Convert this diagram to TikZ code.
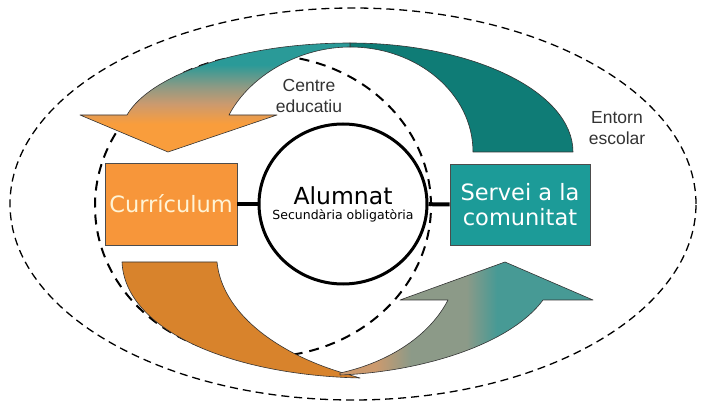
\documentclass[tikz,border=0pt]{standalone}
\usepackage{fontspec}
\setmainfont{Liberation Sans}
\newfontfamily\boxfont{DejaVu Sans}
\usetikzlibrary{shapes.geometric}

\definecolor{boxorange}{HTML}{F7963A}
\definecolor{boxteal}{HTML}{1C9B98}
\definecolor{darkteal}{HTML}{0F7C76}
\definecolor{tailorange}{HTML}{D8832C}
\definecolor{fadeteal}{HTML}{2A9A98}
\definecolor{fadegrey}{HTML}{8E9A84}
\definecolor{fadeorange}{HTML}{F99D3C}
\definecolor{tanbrown}{HTML}{CC9A6E}
\definecolor{greygreen}{HTML}{8C9A88}
\definecolor{greyteal}{HTML}{479A95}
\definecolor{cream}{HTML}{FFF4D6}
\definecolor{labelgrey}{HTML}{333333}

\pgfdeclareverticalshading{topfade}{100bp}{color(0bp)=(fadeorange); color(38bp)=(fadeorange);
  color(47bp)=(tanbrown); color(55bp)=(fadegrey); color(65bp)=(fadeteal); color(100bp)=(fadeteal)}
\pgfdeclarehorizontalshading{bottomfade}{100bp}{color(0bp)=(tanbrown); color(32bp)=(tanbrown);
  color(39bp)=(greygreen); color(50bp)=(greygreen); color(56bp)=(greyteal); color(100bp)=(greyteal)}

\begin{document}
\begin{tikzpicture}[x=1pt,y=-1pt,
    box/.style={draw=black!70,line width=0.8pt,inner sep=0pt,text=white,align=center,
      font=\boxfont\fontsize{22.5}{25}\selectfont},
    band/.style={draw=black!80,line width=0.6pt,line join=round},
    label/.style={text=labelgrey,align=center,font=\fontsize{17.5}{21}\selectfont},
    link/.style={line width=4pt}]
  \useasboundingbox (0,0) rectangle (702,406);
  \draw[line width=1.3pt,dash pattern=on 8pt off 5pt] (353,204) ellipse [x radius=343pt,y radius=196pt];
  \draw[line width=2pt,dash pattern=on 10pt off 7pt] (263,206) ellipse [x radius=168pt,y radius=151pt];
  % top arrow
  \draw[band,fill=darkteal] (573,152) .. controls (573,92) and (473,43) .. (350,43) -- (350,47)
    .. controls (418,47) and (473,94) .. (473,152) -- cycle;
  \shadedraw[band,shading=topfade]
    (350,43) .. controls (240,43) and (150,75) .. (127,115) -- (80,115) -- (168,152) -- (277,115)
    -- (229,115) .. controls (250,75) and (300,47) .. (350,47) -- cycle;
  % bottom arrow
  \draw[band,fill=tailorange] (122,262) .. controls (125,330) and (230,375) .. (360,378) -- (340,372)
    .. controls (275,352) and (222,312) .. (217,262) -- cycle;
  \shadedraw[band,shading=bottomfade]
    (340,375) .. controls (420,372) and (510,345) .. (543,300) -- (593,300) -- (505,262) -- (400,300)
    -- (448,300) .. controls (430,335) and (390,362) .. (340,373) -- cycle;
  % nodes
  \node[box,fill=boxorange,text=cream,minimum width=132pt,minimum height=82pt] (curriculum) at (171,204) {Currículum};
  \node[box,fill=boxteal,minimum width=140pt,minimum height=81pt] (servei) at (520,204.5) {Servei a la\\comunitat};
  \node[ellipse,draw,line width=3pt,fill=white,minimum width=168pt,minimum height=160pt,inner sep=0pt] (alumnat) at (343,204) {};
  \node[anchor=base,font=\boxfont\fontsize{23.5}{26}\selectfont] (alumnattitle) at (343,205) {Alumnat};
  \node[anchor=base,font=\boxfont\fontsize{12.5}{15}\selectfont] (alumnatsub) at (343,220) {Secundària obligatòria};
  \draw[link] (curriculum) -- (alumnat);
  \draw[link] (alumnat) -- (servei);
  \node[label] (centre) at (309,96) {Centre\\educatiu};
  \node[label] (entorn) at (617,128) {Entorn\\escolar};
\end{tikzpicture}
\end{document}
